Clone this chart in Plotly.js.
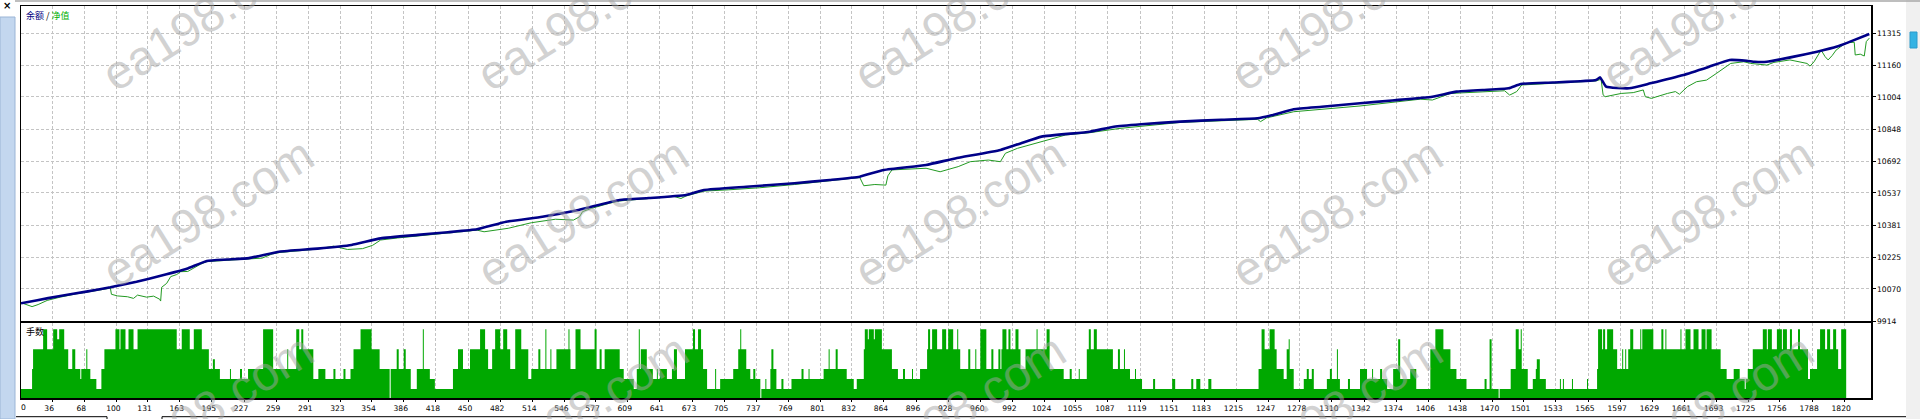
<!DOCTYPE html>
<html>
<head>
<meta charset="utf-8">
<script src="https://cdn.plot.ly/plotly-3.0.1.min.js"></script>
<style>
html,body{margin:0;padding:0;background:#fff;}
#chart{width:1920px;height:419px;}
</style>
</head>
<body>
<div id="chart"></div>
<script>
// ---- data (trade index / value) ----
const balanceX = [5,20,44,70,94,120,145,170,190,210,232,262,300,334,363,400,430,459,488,524,560,601,630,667,685,727,775,810,840,864,906,935,980,1000,1021,1069,1093,1120,1159,1200,1236,1250,1272,1300,1338,1370,1410,1434,1460,1486,1498,1530,1573,1577,1583,1606,1627,1660,1685,1706,1723,1731,1743,1770,1793,1813,1826,1845];
const balanceY = [10000,10014,10036,10057,10078,10105,10135,10168,10206,10213,10220,10251,10266,10284,10316,10333,10346,10360,10397,10421,10454,10503,10512,10527,10551,10567,10584,10600,10616,10649,10673,10705,10746,10778,10811,10835,10859,10871,10884,10893,10900,10915,10944,10956,10973,10987,11005,11030,11038,11046,11067,11074,11086,11099,11054,11046,11070,11111,11150,11184,11180,11175,11175,11200,11224,11249,11273,11310];

const equityX = [5,10,16,22,31,44,60,80,94,95,101,111,117,121,130,137,143,144,145,150,154,160,164,171,176,184,190,232,245,255,262,300,316,330,345,355,363,380,420,459,466,490,513,537,555,561,564,573,591,601,655,662,667,685,709,740,775,840,844,855,866,868,872,906,920,938,950,968,980,985,997,1021,1045,1069,1099,1159,1236,1239,1245,1272,1338,1398,1410,1428,1482,1487,1494,1499,1573,1578,1580,1582,1598,1610,1620,1622,1628,1644,1652,1656,1664,1673,1683,1693,1707,1720,1727,1743,1750,1766,1783,1786,1790,1797,1801,1804,1808,1812,1822,1830,1831,1836,1840,1842,1845];
const equityY = [10003,9995,9984,9994,10014,10030,10046,10062,10074,10044,10036,10032,10024,10040,10030,10035,10020,10011,10078,10097,10130,10140,10154,10155,10170,10191,10203,10214,10220,10240,10247,10264,10278,10262,10266,10282,10308,10318,10338,10356,10348,10365,10392,10409,10405,10421,10446,10462,10487,10498,10520,10510,10522,10546,10552,10562,10578,10612,10572,10578,10575,10620,10649,10657,10640,10665,10689,10697,10689,10730,10754,10786,10819,10830,10851,10880,10895,10884,10902,10932,10960,10993,10989,11021,11034,11013,11030,11062,11082,11090,11014,11005,11021,11025,11038,11005,10997,11021,11030,11017,11054,11078,11086,11119,11167,11175,11167,11159,11172,11184,11167,11154,11175,11232,11200,11184,11205,11232,11268,11270,11208,11212,11203,11273,11290];

// lots: start trade index of each run and its lot level (x0.01)
const lotX = [5,16,17,27,31,37,41,43,48,52,56,59,64,65,70,71,74,80,85,88,99,103,104,109,112,117,121,160,165,173,177,185,192,196,198,203,213,214,223,225,231,246,256,270,271,279,282,284,286,296,301,308,316,318,326,328,333,336,343,354,362,372,373,379,381,386,388,393,399,405,406,412,417,435,440,445,452,462,467,470,474,477,482,485,489,492,497,503,510,513,520,522,527,528,532,533,538,550,551,552,557,562,576,578,581,583,586,601,605,615,618,620,621,622,628,634,638,639,641,648,653,655,658,666,674,676,679,682,684,688,696,697,701,714,719,721,722,727,731,734,736,741,742,746,747,751,752,754,757,762,764,772,782,784,789,790,804,809,810,816,818,827,834,837,844,845,848,849,854,855,862,872,878,883,885,892,893,900,907,908,910,912,917,922,926,928,933,937,938,940,948,950,955,956,960,966,971,973,978,980,981,982,986,988,990,995,998,1000,1005,1016,1017,1026,1029,1043,1049,1051,1058,1059,1066,1068,1070,1073,1076,1092,1097,1099,1103,1104,1109,1114,1115,1121,1132,1134,1151,1154,1170,1172,1175,1179,1187,1190,1237,1240,1243,1248,1253,1255,1262,1265,1267,1268,1272,1282,1285,1287,1290,1292,1305,1308,1310,1315,1316,1318,1326,1328,1338,1345,1350,1351,1358,1360,1365,1371,1376,1378,1388,1394,1408,1413,1421,1428,1434,1444,1462,1464,1467,1469,1476,1477,1488,1493,1496,1498,1499,1505,1510,1513,1514,1517,1523,1537,1538,1540,1541,1549,1550,1564,1565,1574,1575,1579,1580,1582,1584,1590,1594,1599,1600,1602,1603,1605,1607,1610,1617,1618,1619,1630,1638,1640,1642,1643,1657,1658,1662,1667,1670,1675,1678,1682,1683,1688,1697,1703,1710,1716,1721,1722,1724,1729,1739,1743,1744,1748,1753,1758,1759,1763,1766,1768,1774,1776,1784,1786,1793,1796,1801,1803,1806,1809,1812,1814,1817,1822,1826,1847];
const lotLv = [1,3,5,7,5,7,6,7,5,3,5,3,2,3,5,3,2,1,3,5,7,5,7,5,7,5,7,5,7,5,7,5,3,4,3,2,3,2,3,2,3,7,3,5,3,7,5,7,5,2,3,2,3,2,3,2,3,5,7,5,3,0,3,5,3,5,3,1,3,7,3,2,1,3,5,3,5,7,5,3,5,7,5,7,5,3,7,5,2,3,5,3,7,3,5,3,5,7,5,3,7,5,7,3,5,3,5,3,2,1,3,7,3,5,3,2,3,2,3,2,3,5,2,5,7,5,7,5,3,1,3,1,2,3,5,7,5,3,2,3,2,0,1,2,1,3,5,3,1,2,1,2,3,2,3,2,3,5,3,5,3,2,1,2,5,7,6,7,6,7,5,3,2,3,2,3,2,3,5,7,5,7,5,7,5,7,5,7,5,3,5,3,5,3,7,3,5,3,5,3,5,7,5,7,5,7,5,3,5,7,5,7,3,2,3,2,3,2,5,7,5,7,5,3,5,3,5,3,2,3,2,1,2,1,2,1,2,1,2,1,2,1,3,7,5,7,5,3,2,5,6,3,1,2,3,2,3,1,2,3,2,5,2,1,2,1,3,2,3,2,3,2,1,3,6,2,3,1,5,7,5,3,2,1,2,1,6,1,0,1,3,7,5,7,3,1,2,3,4,2,1,2,1,2,1,2,1,2,1,3,7,5,7,5,7,5,3,5,3,5,3,5,7,5,7,5,7,5,7,5,7,5,7,5,7,5,7,5,7,5,7,5,3,2,3,2,1,2,3,5,7,5,7,5,7,5,7,5,7,5,7,5,2,3,5,7,5,7,5,7,5,3,7,7];

const xTickVals = [36,68,100,131,163,195,227,259,291,323,354,386,418,450,482,514,546,577,609,641,673,705,737,769,801,832,864,896,928,960,992,1024,1055,1087,1119,1151,1183,1215,1247,1278,1310,1342,1374,1406,1438,1470,1501,1533,1565,1597,1629,1661,1693,1725,1756,1788,1820];
const xTickText = xTickVals.map(String);
const yTickVals = [9914,10069.7,10225.3,10381,10536.7,10692.3,10848,11003.7,11159.3,11315];
const yTickText = ['9914','10070','10225','10381','10537','10692','10848','11004','11160','11315'];
const legendText = ['余额','净值'];
const lotTitle = '手数';
const watermark = 'ea198.com';

// ---- layout helpers (pixel geometry of the page) ----
const L = 21, R = 1871, T = 6, B = 398;
const W = R - L, H = B - T;
const px = p => (p - L) / W;
const py = p => (B - p) / H;

const grid = {showgrid:true, gridcolor:'#c4c4c4', griddash:'3px,2px', gridwidth:1};
const frame = {showline:true, mirror:true, linecolor:'#000', linewidth:1.5, zeroline:false};
const tickFont = {family:'DejaVu Sans, Liberation Sans, sans-serif', size:7.6, color:'#000'};

const traces = [
  {x:equityX, y:equityY, xaxis:'x', yaxis:'y', type:'scatter', mode:'lines',
   line:{color:'#229a22', width:1}, hoverinfo:'skip'},
  {x:balanceX, y:balanceY, xaxis:'x', yaxis:'y', type:'scatter', mode:'lines',
   line:{color:'#000088', width:2.6, shape:'spline', smoothing:0.4}, hoverinfo:'skip'},
  {x:lotX, y:lotLv, xaxis:'x2', yaxis:'y2', type:'scatter', mode:'lines',
   line:{shape:'hv', width:0, color:'#00a800'}, fill:'tozeroy', fillcolor:'#00a800', hoverinfo:'skip'}
];

const annotations = [];
annotations.push({xref:'paper', yref:'paper', x:px(24), y:py(15), xanchor:'left', yanchor:'middle', showarrow:false,
  text:'<span style="color:#000080">'+legendText[0]+'</span> / <span style="color:#00b000">'+legendText[1]+'</span>',
  font:{family:'Noto Sans CJK SC', size:9, color:'#000'}});
annotations.push({xref:'paper', yref:'paper', x:px(24), y:py(331.5), xanchor:'left', yanchor:'middle', showarrow:false,
  text:lotTitle, font:{family:'Noto Sans CJK SC', size:9, color:'#000'}});
annotations.push({xref:'paper', yref:'paper', x:px(23.5), y:py(407), xanchor:'center', yanchor:'middle', showarrow:false,
  text:'0', font:tickFont});
annotations.push({xref:'paper', yref:'paper', x:px(6.5), y:py(5.5), xanchor:'center', yanchor:'middle', showarrow:false,
  text:'<b>×</b>', font:{family:'DejaVu Sans', size:10, color:'#000'}});
const wmX = [208,583,960,1337,1708], wmY = [16,212,408];
wmY.forEach(yy => wmX.forEach(xx => annotations.push({xref:'paper', yref:'paper', x:px(xx), y:py(yy),
  xanchor:'center', yanchor:'middle', showarrow:false, textangle:-32, text:watermark,
  font:{family:'Liberation Sans, Arial, sans-serif', size:48, color:'rgba(165,165,165,0.5)'}})));

const shapes = [
  {type:'rect', xref:'paper', yref:'paper', x0:px(0), x1:px(15), y0:py(17), y1:py(419), fillcolor:'#c3d7ef', line:{color:'#9bb5d6', width:1}, layer:'below'},
  {type:'line', xref:'paper', yref:'paper', x0:px(15), x1:px(1920), y0:py(1), y1:py(1), line:{color:'#a8a8a8', width:1.5}},
  {type:'rect', xref:'paper', yref:'paper', x0:px(1906), x1:px(1920), y0:py(0), y1:py(419), fillcolor:'#f0f0f0', line:{width:0}, layer:'below'},
  {type:'rect', xref:'paper', yref:'paper', x0:px(1910), x1:px(1917), y0:py(32), y1:py(48), fillcolor:'#33b2e3', line:{color:'#2a9acb', width:1}},
  {type:'path', xref:'paper', yref:'paper', path:'M '+px(16)+','+py(416.7)+' L '+px(107)+','+py(416.7)+' L '+px(107)+','+py(419.5), line:{color:'#000', width:1}},
  {type:'path', xref:'paper', yref:'paper', path:'M '+px(162)+','+py(419.5)+' L '+px(162)+','+py(416.7)+' L '+px(1906)+','+py(416.7), line:{color:'#000', width:1}}
];

const layout = {
  width:1920, height:419, paper_bgcolor:'#fff', plot_bgcolor:'#fff', showlegend:false,
  margin:{l:L, r:1920-R, t:T, b:419-B, pad:0},
  xaxis:Object.assign({domain:[0,1], anchor:'y', range:[4.98,1846.7], tickmode:'array', tickvals:xTickVals, showticklabels:false, ticks:''}, grid, frame),
  yaxis:Object.assign({domain:[py(321),1], anchor:'x', side:'right', range:[9914,11446.35], tickmode:'array', tickvals:yTickVals, ticktext:yTickText,
     ticks:'outside', ticklen:3, tickcolor:'#000', tickfont:tickFont}, grid, frame),
  xaxis2:Object.assign({domain:[0,1], anchor:'y2', range:[4.98,1846.7], tickmode:'array', tickvals:xTickVals, ticktext:xTickText,
     ticks:'outside', ticklen:2, tickcolor:'#000', tickfont:tickFont, ticklabelshift:-3}, grid, frame),
  yaxis2:Object.assign({domain:[0,py(323.3)], anchor:'x2', range:[0.1,7.6], showgrid:false, showticklabels:false, ticks:''}, frame),
  annotations:annotations, shapes:shapes
};

Plotly.newPlot('chart', traces, layout, {staticPlot:true, displayModeBar:false});
</script>
</body>
</html>
